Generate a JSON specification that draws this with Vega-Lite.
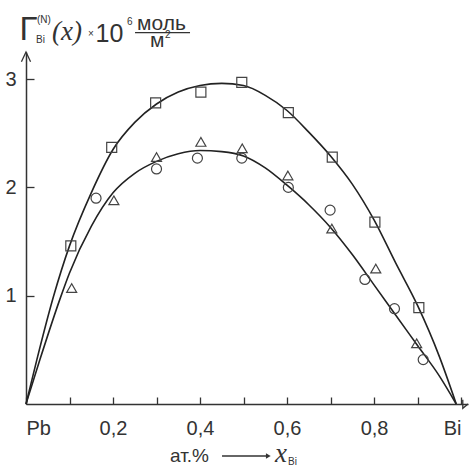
{
  "$schema": "https://vega.github.io/schema/vega-lite/v6.json",
  "width": 442,
  "height": 352,
  "autosize": "none",
  "padding": {"left": 26, "top": 52, "right": 2, "bottom": 62},
  "background": "white",
  "config": {"view": {"stroke": null}},
  "layer": [
    {
      "data": {"values": [
        {"curve": "upper", "x": 0, "y": 0},
        {"curve": "upper", "x": 0.025, "y": 0.41},
        {"curve": "upper", "x": 0.063, "y": 0.99},
        {"curve": "upper", "x": 0.1, "y": 1.46},
        {"curve": "upper", "x": 0.15, "y": 1.95},
        {"curve": "upper", "x": 0.2, "y": 2.35},
        {"curve": "upper", "x": 0.25, "y": 2.6},
        {"curve": "upper", "x": 0.3, "y": 2.77},
        {"curve": "upper", "x": 0.35, "y": 2.88},
        {"curve": "upper", "x": 0.4, "y": 2.94},
        {"curve": "upper", "x": 0.45, "y": 2.96},
        {"curve": "upper", "x": 0.5, "y": 2.94},
        {"curve": "upper", "x": 0.55, "y": 2.85},
        {"curve": "upper", "x": 0.6, "y": 2.71},
        {"curve": "upper", "x": 0.65, "y": 2.51},
        {"curve": "upper", "x": 0.7, "y": 2.29},
        {"curve": "upper", "x": 0.75, "y": 2.03},
        {"curve": "upper", "x": 0.8, "y": 1.7},
        {"curve": "upper", "x": 0.85, "y": 1.3},
        {"curve": "upper", "x": 0.9, "y": 0.91},
        {"curve": "upper", "x": 0.95, "y": 0.44},
        {"curve": "upper", "x": 0.989, "y": 0},
        {"curve": "lower", "x": 0, "y": 0},
        {"curve": "lower", "x": 0.032, "y": 0.41},
        {"curve": "lower", "x": 0.079, "y": 0.98},
        {"curve": "lower", "x": 0.1, "y": 1.21},
        {"curve": "lower", "x": 0.15, "y": 1.64},
        {"curve": "lower", "x": 0.2, "y": 1.95},
        {"curve": "lower", "x": 0.25, "y": 2.13},
        {"curve": "lower", "x": 0.3, "y": 2.24},
        {"curve": "lower", "x": 0.35, "y": 2.31},
        {"curve": "lower", "x": 0.4, "y": 2.34},
        {"curve": "lower", "x": 0.45, "y": 2.33},
        {"curve": "lower", "x": 0.5, "y": 2.29},
        {"curve": "lower", "x": 0.55, "y": 2.18},
        {"curve": "lower", "x": 0.6, "y": 2.02},
        {"curve": "lower", "x": 0.65, "y": 1.84},
        {"curve": "lower", "x": 0.7, "y": 1.63},
        {"curve": "lower", "x": 0.75, "y": 1.38},
        {"curve": "lower", "x": 0.8, "y": 1.1},
        {"curve": "lower", "x": 0.85, "y": 0.82},
        {"curve": "lower", "x": 0.9, "y": 0.54},
        {"curve": "lower", "x": 0.95, "y": 0.26},
        {"curve": "lower", "x": 0.989, "y": 0}
      ]},
      "mark": {"type": "line", "interpolate": "monotone", "stroke": "#222", "strokeWidth": 1.6},
      "encoding": {
        "x": {
          "field": "x", "type": "quantitative",
          "scale": {"domain": [0, 1.016], "nice": false, "zero": false},
          "axis": {
            "title": null, "grid": false,
            "values": [0, 0.1, 0.2, 0.3, 0.4, 0.5, 0.6, 0.7, 0.8, 0.9, 1],
            "labelExpr": "datum.value == 0 ? 'Pb' : (datum.value == 1 ? 'Bi' : (round(datum.value * 10) % 2 == 1 ? '' : replace(format(datum.value, '.1f'), '.', ',')))",
            "tickSize": -7, "tickColor": "#333", "tickWidth": 1.3,
            "domainColor": "#333", "domainWidth": 1.5,
            "labelFont": "Liberation Sans", "labelFontSize": 20, "labelColor": "#333",
            "labelPadding": 21, "labelFlush": 10, "labelOverlap": false
          }
        },
        "y": {
          "field": "y", "type": "quantitative",
          "scale": {"domain": [0, 3.25], "nice": false},
          "axis": {
            "title": null, "grid": false,
            "values": [1, 2, 3],
            "labelExpr": "format(datum.value, 'd')",
            "tickSize": -8, "tickColor": "#333", "tickWidth": 1.3,
            "domainColor": "#333", "domainWidth": 1.5,
            "labelFont": "Liberation Sans", "labelFontSize": 20, "labelColor": "#333",
            "labelPadding": 18, "labelOverlap": false
          }
        },
        "detail": {"field": "curve"}
      }
    },
    {
      "data": {"values": [
        {"series": "square", "x": 0.103, "y": 1.46},
        {"series": "square", "x": 0.197, "y": 2.37},
        {"series": "square", "x": 0.298, "y": 2.78},
        {"series": "square", "x": 0.402, "y": 2.88},
        {"series": "square", "x": 0.496, "y": 2.97},
        {"series": "square", "x": 0.603, "y": 2.69},
        {"series": "square", "x": 0.704, "y": 2.28},
        {"series": "square", "x": 0.802, "y": 1.68},
        {"series": "square", "x": 0.903, "y": 0.89},
        {"series": "circle", "x": 0.161, "y": 1.9},
        {"series": "circle", "x": 0.3, "y": 2.17},
        {"series": "circle", "x": 0.394, "y": 2.27},
        {"series": "circle", "x": 0.496, "y": 2.27},
        {"series": "circle", "x": 0.603, "y": 2.0},
        {"series": "circle", "x": 0.699, "y": 1.79},
        {"series": "circle", "x": 0.779, "y": 1.15},
        {"series": "circle", "x": 0.847, "y": 0.88},
        {"series": "circle", "x": 0.913, "y": 0.41},
        {"series": "triangle", "x": 0.105, "y": 1.07},
        {"series": "triangle", "x": 0.202, "y": 1.88},
        {"series": "triangle", "x": 0.3, "y": 2.28},
        {"series": "triangle", "x": 0.402, "y": 2.42},
        {"series": "triangle", "x": 0.497, "y": 2.36},
        {"series": "triangle", "x": 0.602, "y": 2.11},
        {"series": "triangle", "x": 0.703, "y": 1.62},
        {"series": "triangle", "x": 0.804, "y": 1.25},
        {"series": "triangle", "x": 0.898, "y": 0.56}
      ]},
      "mark": {"type": "point", "filled": false, "stroke": "#444", "strokeWidth": 1.2, "size": 100, "opacity": 1},
      "encoding": {
        "x": {"field": "x", "type": "quantitative"},
        "y": {"field": "y", "type": "quantitative"},
        "shape": {"field": "series", "type": "nominal", "scale": {"domain": ["square", "circle", "triangle"], "range": ["square", "circle", "triangle-up"]}, "legend": null}
      }
    },
    {
      "data": {"values": [
        {"arrow": "y", "x": -0.0105, "y": 3.16},
        {"arrow": "y", "x": 0, "y": 3.25},
        {"arrow": "y", "x": 0.0105, "y": 3.16},
        {"arrow": "x", "x": 1.004, "y": 0.04},
        {"arrow": "x", "x": 1.016, "y": 0},
        {"arrow": "x", "x": 1.004, "y": -0.04}
      ]},
      "mark": {"type": "line", "stroke": "#333", "strokeWidth": 1.3},
      "encoding": {"x": {"field": "x", "type": "quantitative"}, "y": {"field": "y", "type": "quantitative"}, "detail": {"field": "arrow"}}
    },
    {
      "data": {"values": [{"text": "Γ", "x": -0.0149, "y": 3.361}]},
      "mark": {"type": "text", "align": "left", "baseline": "alphabetic", "font": "Liberation Sans", "fontSize": 33, "color": "#333"},
      "encoding": {"x": {"field": "x", "type": "quantitative"}, "y": {"field": "y", "type": "quantitative"}, "text": {"field": "text"}}
    },
    {
      "data": {"values": [{"text": "10", "x": 0.1598, "y": 3.343}]},
      "mark": {"type": "text", "align": "left", "baseline": "alphabetic", "font": "Liberation Sans", "fontSize": 25, "color": "#333"},
      "encoding": {"x": {"field": "x", "type": "quantitative"}, "y": {"field": "y", "type": "quantitative"}, "text": {"field": "text"}}
    },
    {
      "data": {"values": [
        {"text": "моль", "x": 0.2552, "y": 3.453},
        {"text": "м", "x": 0.285, "y": 3.296}
      ]},
      "mark": {"type": "text", "align": "left", "baseline": "alphabetic", "font": "Liberation Sans", "fontSize": 21, "color": "#333"},
      "encoding": {"x": {"field": "x", "type": "quantitative"}, "y": {"field": "y", "type": "quantitative"}, "text": {"field": "text"}}
    },
    {
      "data": {"values": [{"text": "ат.%", "x": 0.331, "y": -0.5355}]},
      "mark": {"type": "text", "align": "left", "baseline": "alphabetic", "font": "Liberation Sans", "fontSize": 19, "color": "#333"},
      "encoding": {"x": {"field": "x", "type": "quantitative"}, "y": {"field": "y", "type": "quantitative"}, "text": {"field": "text"}}
    },
    {
      "data": {"values": [
        {"text": "Bi", "x": 0.023, "y": 3.333},
        {"text": "(N)", "x": 0.0253, "y": 3.518},
        {"text": "×", "x": 0.1425, "y": 3.393},
        {"text": "6", "x": 0.2322, "y": 3.5},
        {"text": "2", "x": 0.3195, "y": 3.38},
        {"text": "Bi", "x": 0.6023, "y": -0.563}
      ]},
      "mark": {"type": "text", "align": "left", "baseline": "alphabetic", "font": "Liberation Sans", "fontSize": 10, "color": "#333"},
      "encoding": {"x": {"field": "x", "type": "quantitative"}, "y": {"field": "y", "type": "quantitative"}, "text": {"field": "text"}}
    },
    {
      "data": {"values": [
        {"text": "(x)", "x": 0.0598, "y": 3.361},
        {"text": "x", "x": 0.5724, "y": -0.5355}
      ]},
      "mark": {"type": "text", "align": "left", "baseline": "alphabetic", "font": "Liberation Serif", "fontStyle": "italic", "fontSize": 27, "color": "#333"},
      "encoding": {"x": {"field": "x", "type": "quantitative"}, "y": {"field": "y", "type": "quantitative"}, "text": {"field": "text"}}
    },
    {
      "data": {"values": [
        {"x": 0.2506, "x2": 0.377, "y": 3.428},
        {"x": 0.4506, "x2": 0.556, "y": -0.48}
      ]},
      "mark": {"type": "rule", "stroke": "#333", "strokeWidth": 1.3},
      "encoding": {"x": {"field": "x", "type": "quantitative"}, "x2": {"field": "x2"}, "y": {"field": "y", "type": "quantitative"}}
    },
    {
      "data": {"values": [{"x": 0.557, "y": -0.48}]},
      "mark": {"type": "point", "shape": "triangle-right", "filled": true, "color": "#333", "size": 30, "opacity": 1},
      "encoding": {"x": {"field": "x", "type": "quantitative"}, "y": {"field": "y", "type": "quantitative"}}
    }
  ]
}
